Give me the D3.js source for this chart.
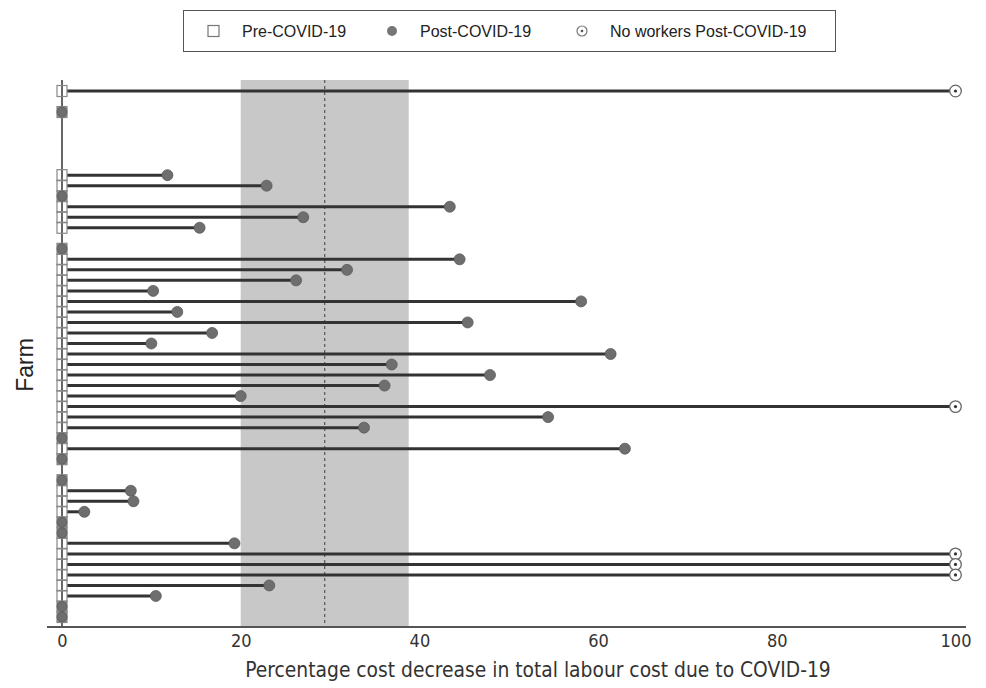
<!DOCTYPE html>
<html>
<head>
<meta charset="utf-8">
<script src="https://cdn.jsdelivr.net/npm/d3@7"></script>
<style>
  body { margin: 0; background: #fff; }
  svg { display: block; }
</style>
</head>
<body>
<svg id="chart" width="986" height="688"></svg>
<script>
// Farm categories (top to bottom)
const farms = ["F1","F2","F3","F4","F5","F6","F7","F8","F9","F10",
  "F11","F12","F13","F14","F15","F16","F17","F18","F19","F20",
  "F21","F22","F23","F24","F25","F26","F27","F28","F29","F30",
  "F31","F32","F33","F34","F35","F36","F37","F38","F39","F40",
  "F41","F42","F43","F44","F45","F46","F47","F48","F49","F50","F51"];
// Percentage cost decrease (null = no data)
const decrease = [100, null, 0, null, null, null, null, null, 11.8, 22.9,
  0, 43.4, 27.0, 15.4, null, 0, 44.5, 31.9, 26.2, 10.2,
  58.1, 12.9, 45.4, 16.8, 10.0, 61.4, 36.9, 47.9, 36.1, 20.0,
  100, 54.4, 33.8, 0, 63.0, 0, null, 0, 7.7, 8.0,
  2.5, 0, 0, 19.3, 100, 100, 100, 23.2, 10.5, 0, 0];
// Farms with no workers post-COVID-19
const noWorkerFarms = ["F1","F31","F45","F46","F47"];
// Shaded band and dashed mean line
const bandRange = [20.0, 38.8];
const meanValue = 29.4;
const xTicks = [0, 20, 40, 60, 80, 100];
const legendLabels = ["Pre-COVID-19", "Post-COVID-19", "No workers Post-COVID-19"];

const data = farms.map((f, i) => ({farm: f, value: decrease[i], noWorkers: noWorkerFarms.includes(f)}))
  .filter(d => d.value !== null);

const svg = d3.select("#chart");
const x = d3.scaleLinear().domain([0, 100]).range([62, 955.5]);
const y = d3.scalePoint().domain(farms).range([91, 617]);
const plotTop = 80, plotBottom = 627;

// shaded band
svg.append("rect")
  .attr("x", x(bandRange[0])).attr("y", plotTop)
  .attr("width", x(bandRange[1]) - x(bandRange[0]))
  .attr("height", plotBottom - plotTop)
  .attr("fill", "#c8c8c8");
svg.append("line")
  .attr("x1", x(meanValue)).attr("x2", x(meanValue))
  .attr("y1", plotTop).attr("y2", plotBottom)
  .attr("stroke", "#555").attr("stroke-width", 1.2).attr("stroke-dasharray", "3,3");

// y axis line
svg.append("line")
  .attr("x1", x(0)).attr("x2", x(0)).attr("y1", plotTop).attr("y2", plotBottom)
  .attr("stroke", "#333").attr("stroke-width", 1.5);

// x axis
const xAxis = d3.axisBottom(x).tickValues(xTicks).tickSize(0).tickPadding(5).tickFormat(d3.format("d"));
const gx = svg.append("g").attr("transform", `translate(0,${plotBottom})`).call(xAxis);
gx.select(".domain").remove();
gx.append("line").attr("x1", 47).attr("x2", 966).attr("y1", 0).attr("y2", 0)
  .attr("stroke", "#555").attr("stroke-width", 2);
gx.selectAll("text")
  .attr("font-family", "'DejaVu Sans Condensed', 'DejaVu Sans'")
  .attr("font-stretch", "condensed")
  .attr("font-size", 18).attr("fill", "#333").attr("dy", "0.85em");

// axis titles
svg.append("text")
  .attr("x", 538).attr("y", 677).attr("text-anchor", "middle")
  .attr("font-family", "'DejaVu Sans Condensed', 'DejaVu Sans'")
  .attr("font-stretch", "condensed")
  .attr("font-size", 20.8).attr("fill", "#333")
  .text("Percentage cost decrease in total labour cost due to COVID-19");
svg.append("text")
  .attr("transform", "translate(33,365) rotate(-90)")
  .attr("text-anchor", "middle")
  .attr("font-family", "'Liberation Sans', Arial, sans-serif")
  .attr("font-size", 23).attr("fill", "#222")
  .text("Farm");

// lines
svg.append("g").selectAll("line").data(data.filter(d => d.value > 0)).join("line")
  .attr("x1", x(0) + 5).attr("x2", d => x(d.value))
  .attr("y1", d => y(d.farm)).attr("y2", d => y(d.farm))
  .attr("stroke", "#333").attr("stroke-width", 3);

// pre-COVID squares
svg.append("g").selectAll("rect").data(data).join("rect")
  .attr("x", x(0) - 5).attr("y", d => y(d.farm) - 5.5)
  .attr("width", 10).attr("height", 11)
  .attr("fill", d => d.value === 0 ? "#8a8a8a" : "none")
  .attr("stroke", "#888").attr("stroke-width", 1.2);

// post-COVID dots
svg.append("g").selectAll("circle").data(data.filter(d => !d.noWorkers)).join("circle")
  .attr("cx", d => x(d.value)).attr("cy", d => y(d.farm))
  .attr("r", d => d.value === 0 ? 5 : 5.5)
  .attr("fill", "#6e6e6e").attr("stroke", "#5a5a5a").attr("stroke-width", 0.8);

// no workers circles
const nw = svg.append("g").selectAll("g").data(data.filter(d => d.noWorkers)).join("g")
  .attr("transform", d => `translate(${x(d.value)},${y(d.farm)})`);
nw.append("circle").attr("r", 5.8).attr("fill", "#fff").attr("stroke", "#666").attr("stroke-width", 1.3);
nw.append("circle").attr("r", 1.6).attr("fill", "#333");

// legend
const lg = svg.append("g");
lg.append("rect").attr("x", 183.5).attr("y", 10.5).attr("width", 652).attr("height", 41)
  .attr("fill", "#fff").attr("stroke", "#555").attr("stroke-width", 1);
const ly = 31;
lg.append("rect").attr("x", 208).attr("y", ly - 5.5).attr("width", 11).attr("height", 11)
  .attr("fill", "none").attr("stroke", "#777").attr("stroke-width", 1.2);
lg.append("circle").attr("cx", 392).attr("cy", ly).attr("r", 5).attr("fill", "#777");
lg.append("circle").attr("cx", 582).attr("cy", ly).attr("r", 5).attr("fill", "#fff").attr("stroke", "#777").attr("stroke-width", 1.2);
lg.append("circle").attr("cx", 582).attr("cy", ly).attr("r", 1.3).attr("fill", "#555");
const lx = [242, 420, 610];
lg.selectAll("text.l").data(legendLabels).join("text")
  .attr("x", (d, i) => lx[i]).attr("y", ly).attr("dy", "0.35em")
  .attr("font-family", "'Liberation Sans', Arial, sans-serif")
  .attr("font-size", 16).attr("fill", "#222")
  .text(d => d);
</script>
</body>
</html>
